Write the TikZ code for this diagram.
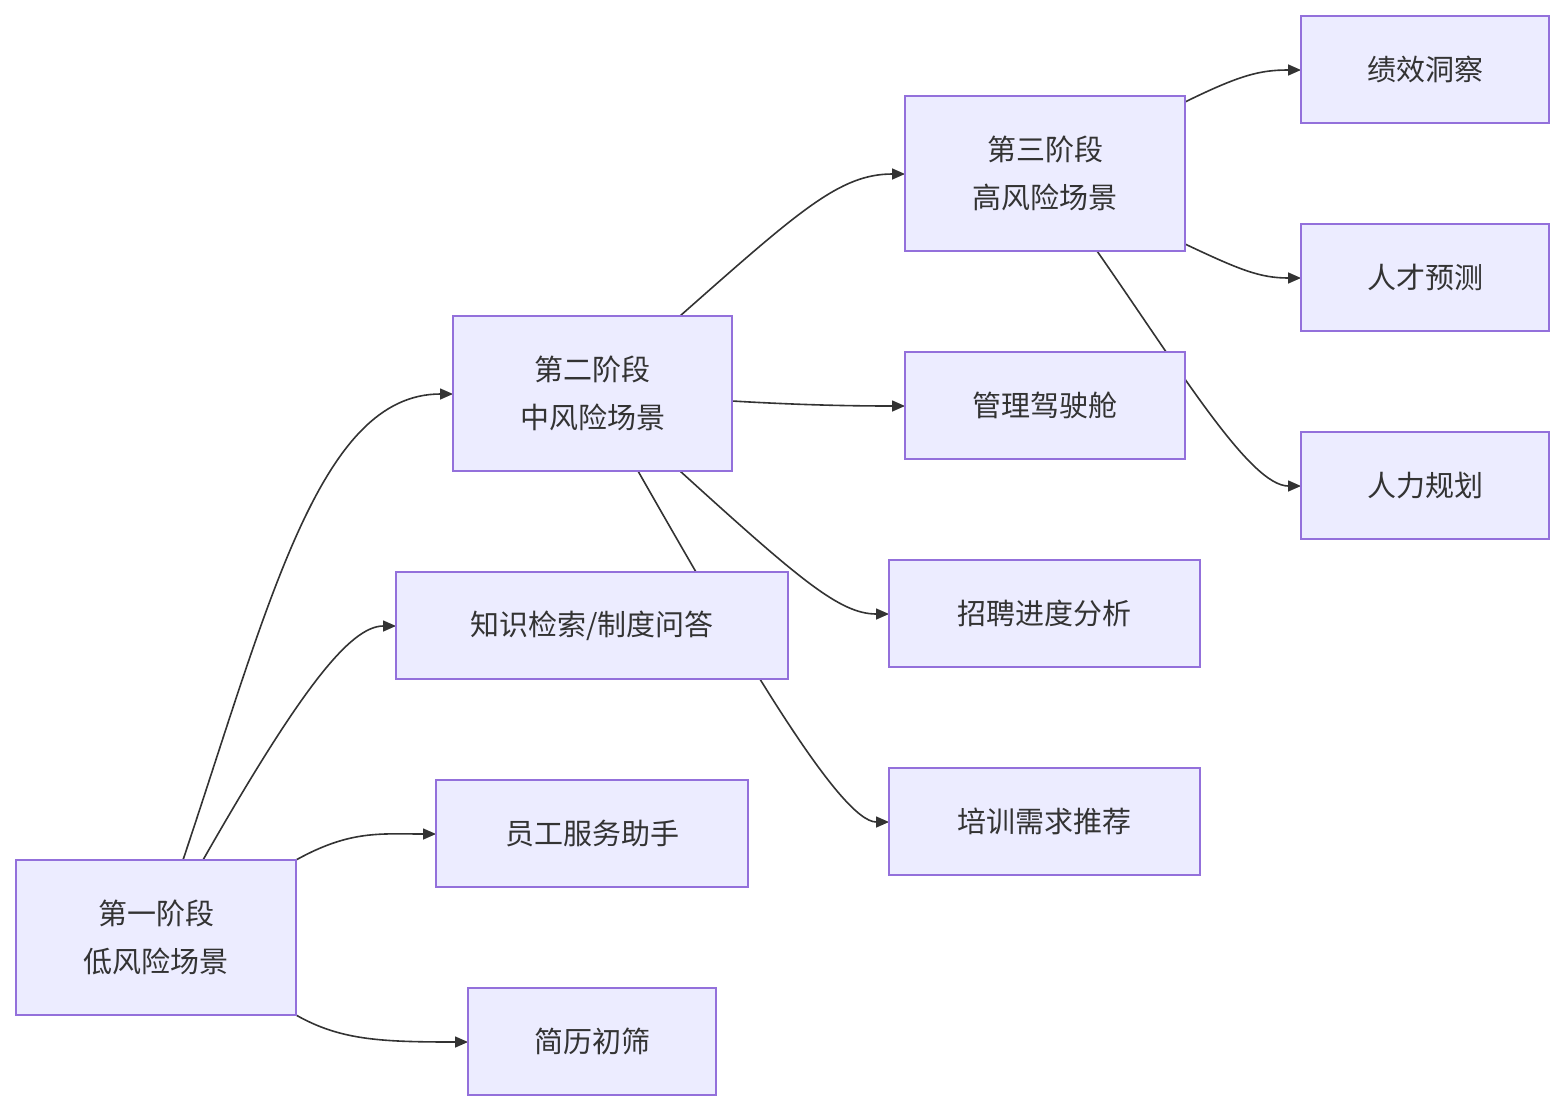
\documentclass[tikz,border=0pt]{standalone}
\usepackage{fontspec}
\setmainfont{Noto Sans CJK SC}
\usetikzlibrary{arrows.meta}
\definecolor{nfill}{HTML}{ECECFF}
\definecolor{nline}{HTML}{9370DB}
\definecolor{ink}{HTML}{333333}
\begin{document}
\begin{tikzpicture}[x=1pt,y=-1pt,
  box/.style={draw=nline,fill=nfill,line width=1.5pt,minimum width=#1,inner sep=0pt,align=center,text=ink,font=\fontsize{29}{48}\selectfont},
  e/.style={draw=ink,line width=1.6pt,-{Triangle[length=13,width=11]}}]
\useasboundingbox (0,0) rectangle (1564,1112);
\coordinate (A) at (156,937.5);
% edges
\draw[e] (183,860) .. controls (270,600) and (320,394) .. (453,394);
\draw[e] (203,860) .. controls (300,690) and (350,626) .. (396,626);
\draw[e] (296,860) .. controls (350,830) and (380,834) .. (436,834);
\draw[e] (296,1015) .. controls (340,1040) and (380,1042) .. (468,1042);
\draw[e] (680,316) .. controls (800,210) and (840,174) .. (905,174);
\draw[e] (732,401) .. controls (800,405) and (850,406) .. (905,406);
\draw[e] (680,471) .. controls (800,580) and (840,614) .. (889,614);
\draw[e] (638,471) .. controls (740,650) and (840,822) .. (889,822);
\draw[e] (1185,102) .. controls (1240,75) and (1260,70) .. (1301,70);
\draw[e] (1185,244) .. controls (1240,270) and (1260,278) .. (1301,278);
\draw[e] (1097,251) .. controls (1180,370) and (1250,486) .. (1301,486);
% nodes
\node[box=280,minimum height=155] (n1) at (A) {第一阶段\\低风险场景};
\node[box=279,minimum height=155] (n2) at (592.5,393.5) {第二阶段\\中风险场景};
\node[box=392,minimum height=107] (n3) at (592,625.5) {知识检索/制度问答};
\node[box=312,minimum height=107] (n4) at (592,833.5) {员工服务助手};
\node[box=248,minimum height=107] (n5) at (592,1041.5) {简历初筛};
\node[box=280,minimum height=155] (n6) at (1045,173.5) {第三阶段\\高风险场景};
\node[box=280,minimum height=107] (n7) at (1045,405.5) {管理驾驶舱};
\node[box=311,minimum height=107] (n8) at (1044.5,613.5) {招聘进度分析};
\node[box=311,minimum height=107] (n9) at (1044.5,821.5) {培训需求推荐};
\node[box=248,minimum height=107] (n10) at (1425,69.5) {绩效洞察};
\node[box=248,minimum height=107] (n11) at (1425,277.5) {人才预测};
\node[box=248,minimum height=107] (n12) at (1425,485.5) {人力规划};
\end{tikzpicture}
\end{document}
